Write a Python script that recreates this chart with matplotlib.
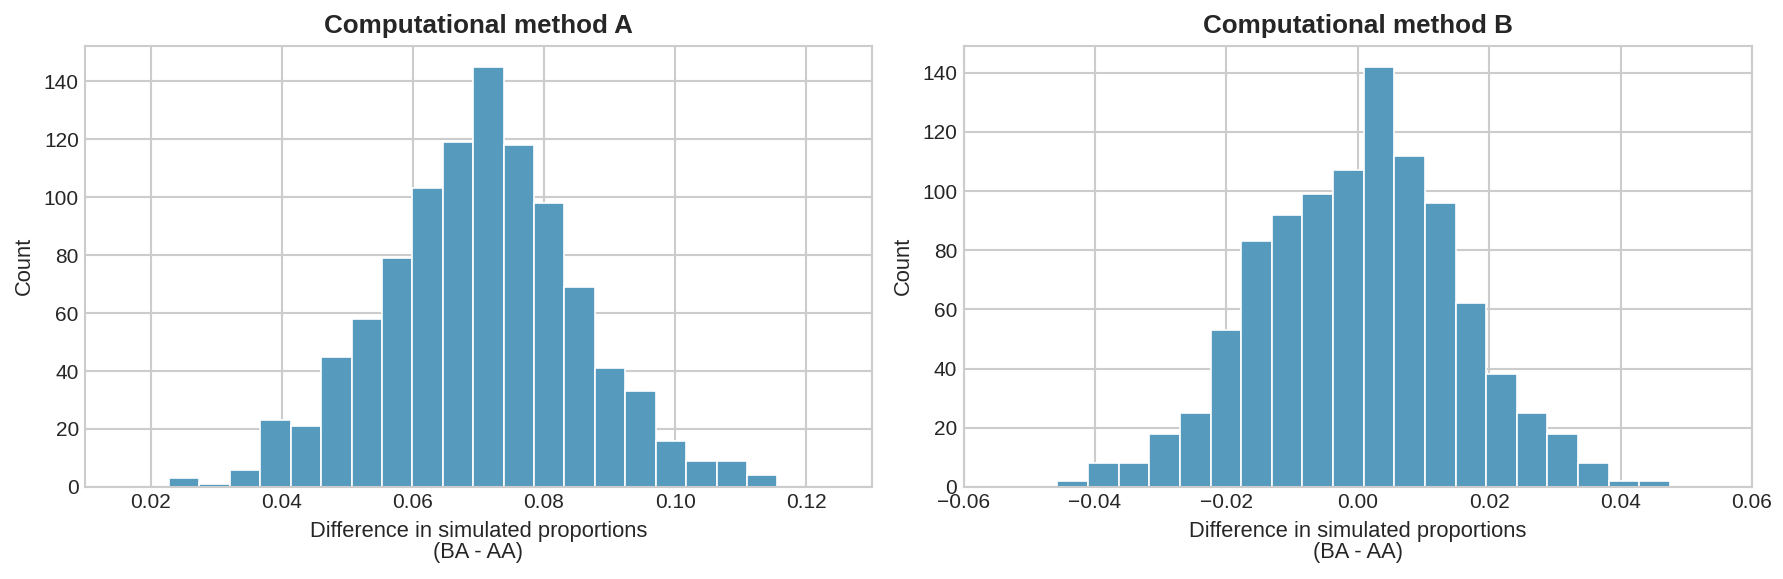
import numpy as np
import matplotlib
matplotlib.use("Agg")
import matplotlib.pyplot as plt

# counts per bin (1000 simulations each)
counts_a = [3, 1, 6, 23, 21, 45, 58, 79, 103, 119, 145, 118, 98, 69, 41, 33, 16, 9, 9, 4]
counts_b = [2, 8, 8, 18, 25, 53, 83, 92, 99, 107, 142, 112, 96, 62, 38, 25, 18, 8, 2, 2]

# first and last bin edge
range_a = (0.0228, 0.1156)
range_b = (-0.0457, 0.0475)
n_bins = 20

xlim_a = (0.01, 0.13)
xlim_b = (-0.06, 0.06)
xticks_a = [0.02, 0.04, 0.06, 0.08, 0.10, 0.12]
xticks_b = [-0.06, -0.04, -0.02, 0.00, 0.02, 0.04, 0.06]

titles = ["Computational method A", "Computational method B"]
xlabel = "Difference in simulated proportions\n(BA - AA)"

plt.style.use("seaborn-v0_8-whitegrid")
plt.rcParams["font.family"] = ["Liberation Sans", "DejaVu Sans"]
plt.rcParams["text.color"] = "#262626"
plt.rcParams["axes.labelcolor"] = "#262626"
plt.rcParams["xtick.color"] = "#262626"
plt.rcParams["ytick.color"] = "#262626"

fig = plt.figure(figsize=(1783 / 150, 579 / 150), dpi=150)
ax1 = fig.add_axes([0.0477, 0.159, 0.4413, 0.762])
ax2 = fig.add_axes([0.5404, 0.159, 0.4422, 0.762])

bar_color = "#569bbd"

for ax, counts, rng, xlim, xticks, title in [
    (ax1, counts_a, range_a, xlim_a, xticks_a, titles[0]),
    (ax2, counts_b, range_b, xlim_b, xticks_b, titles[1]),
]:
    edges = np.linspace(rng[0], rng[1], n_bins + 1)
    ax.bar(edges[:-1], counts, width=np.diff(edges), align="edge",
           color=bar_color, edgecolor="white", linewidth=0.8, zorder=2)
    ax.set_xlim(*xlim)
    ax.set_ylim(0, max(counts) * 1.05)
    ax.set_xticks(xticks)
    ax.set_xticklabels(["\u2212" + f"{abs(t):.2f}" if t < 0 else f"{t:.2f}" for t in xticks])
    ax.set_yticks(range(0, 141, 20))
    ax.tick_params(labelsize=10, pad=3)
    ax.set_axisbelow(True)
    ax.grid(True, color="#cccccc", linewidth=1.0)
    for s in ax.spines.values():
        s.set_visible(True)
        s.set_color("#cccccc")
        s.set_linewidth(1.0)
    ax.set_title(title, fontsize=12.5, fontweight="bold", pad=6)
    ax.set_xlabel(xlabel, fontsize=10.5, linespacing=1.05, labelpad=4)
    ax.set_ylabel("Count", fontsize=10.5, labelpad=4)

fig.savefig("out.png", dpi=150)
